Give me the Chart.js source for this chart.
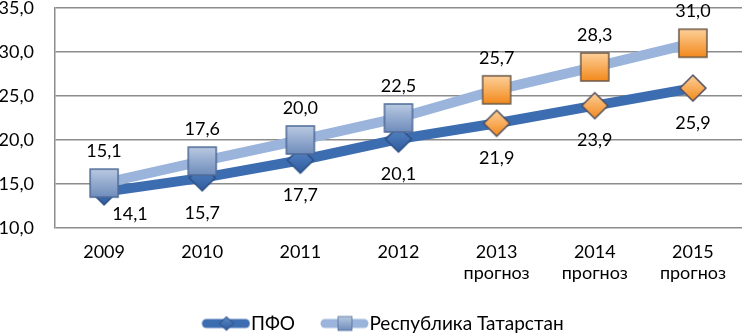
<!DOCTYPE html>
<html>
<head>
<meta charset="utf-8">
<script src="https://cdn.jsdelivr.net/npm/chart.js@4/dist/chart.umd.min.js"></script>
<style>
  html, body { margin: 0; padding: 0; background: #fff; }
  #wrap { width: 742px; height: 334px; }
</style>
</head>
<body>
<div id="wrap"><canvas id="chart_pfo"></canvas></div>
<script>
const years = [["2009"], ["2010"], ["2011"], ["2012"], ["2013", "прогноз"], ["2014", "прогноз"], ["2015", "прогноз"]];
const pfoValues = [14.1, 15.7, 17.7, 20.1, 21.9, 23.9, 25.9];
const tatValues = [15.1, 17.6, 20.0, 22.5, 25.7, 28.3, 31.0];
const forecastFrom = 4; // index of first "прогноз" year

const FONT = "Lato, 'Liberation Sans', sans-serif";

// marker images, drawn once
function makeMarker(shape, size, c1, c2, edge) {
  let cv = document.createElement("canvas");
  cv.width = size + 4;
  cv.height = size + 4;
  let g = cv.getContext("2d");
  let m = (size + 4) / 2;
  let grad = g.createLinearGradient(0, 2, 0, size + 2);
  grad.addColorStop(0, c1);
  grad.addColorStop(1, c2);
  g.fillStyle = grad;
  g.strokeStyle = edge;
  g.lineWidth = 1.5;
  g.beginPath();
  if (shape == "square") {
    g.rect(2, 2, size, size);
  } else {
    g.moveTo(m, 2);
    g.lineTo(size + 2, m);
    g.lineTo(m, size + 2);
    g.lineTo(2, m);
    g.closePath();
  }
  g.fill();
  g.stroke();
  return cv;
}

const sqBlue = makeMarker("square", 28, "#b9c9e2", "#6e8cbb", "#4e6a96");
const sqOrange = makeMarker("square", 28, "#fdd09a", "#f3891c", "#6d5a48");
const dmBlue = makeMarker("diamond", 26, "#5a88c8", "#2f5c9c", "#2b4f86");
const dmOrange = makeMarker("diamond", 26, "#fdd09a", "#f3891c", "#4f4f5f");

// legend icon: transparent space on the left so the line sits right before the text
function legendIcon(color, marker) {
  let cv = document.createElement("canvas");
  cv.width = 81;
  cv.height = 18;
  let g = cv.getContext("2d");
  g.strokeStyle = color;
  g.lineWidth = 9;
  g.lineCap = "round";
  g.beginPath();
  g.moveTo(37, 9);
  g.lineTo(76, 9);
  g.stroke();
  g.drawImage(marker, 57 - 8, 1, 16, 16);
  return cv;
}

// value labels: Татарстан above, ПФО below (kept inside plot area)
const valueLabels = {
  id: "valueLabels",
  afterDatasetsDraw(chart) {
    let ctx = chart.ctx;
    let area = chart.chartArea;
    ctx.save();
    ctx.font = "18px " + FONT;
    ctx.fillStyle = "#000";
    ctx.textAlign = "center";
    ctx.textBaseline = "middle";
    chart.data.datasets.forEach((ds, i) => {
      chart.getDatasetMeta(i).data.forEach((pt, j) => {
        let txt = ds.data[j].toFixed(1).replace(".", ",");
        let x = pt.x;
        let y = ds.labelPos == "above" ? pt.y - 32 : pt.y + 35;
        if (y > area.bottom - 8) {
          y = area.bottom - 14;
          x = x + 26;
        }
        ctx.fillText(txt, x, y);
      });
    });
    ctx.restore();
  },
};

var ctx = document.getElementById("chart_pfo").getContext("2d");

var myChart = new Chart(ctx, {
  type: "line",
  data: {
    labels: years,
    datasets: [
      {
        label: "ПФО",
        data: pfoValues,
        borderColor: "#3d6db1",
        borderWidth: 10,
        fill: false,
        tension: 0,
        order: 2,
        labelPos: "below",
        pointStyle: (c) => (c.dataIndex >= forecastFrom ? dmOrange : dmBlue),
        legendIcon: legendIcon("#3d6db1", dmBlue),
      },
      {
        label: "Республика Татарстан",
        data: tatValues,
        borderColor: "#9bb4db",
        borderWidth: 10,
        fill: false,
        tension: 0,
        order: 1,
        labelPos: "above",
        pointStyle: (c) => (c.dataIndex >= forecastFrom ? sqOrange : sqBlue),
        legendIcon: legendIcon("#9bb4db", sqBlue),
      },
    ],
  },
  plugins: [valueLabels],
  options: {
    animation: false,
    responsive: true,
    maintainAspectRatio: false,
    layout: {
      autoPadding: false,
      padding: { top: 0, right: 0, left: 0, bottom: -9 },
    },
    plugins: {
      tooltip: { enabled: false },
      legend: {
        display: true,
        position: "bottom",
        labels: {
          usePointStyle: true,
          pointStyleWidth: 63,
          padding: 2,
          color: "#000",
          font: { size: 19, family: FONT },
          sort: (a, b) => a.datasetIndex - b.datasetIndex,
          generateLabels: function (chart) {
            return chart.data.datasets.map((ds, i) => ({
              text: ds.label,
              pointStyle: ds.legendIcon,
              datasetIndex: i,
              fontColor: "#000",
              lineWidth: 0,
              hidden: false,
            }));
          },
        },
      },
    },
    scales: {
      x: {
        offset: true,
        afterFit: function (scale) {
          scale.height = 84;
        },
        grid: { display: false },
        border: { display: false },
        ticks: {
          color: "#000",
          padding: 5,
          maxRotation: 0,
          font: { size: 18, family: FONT, lineHeight: 1.2 },
        },
      },
      y: {
        min: 10,
        max: 35,
        afterFit: function (scale) {
          scale.width = 55;
          scale.paddingTop = 8;
          scale.paddingBottom = 8;
        },
        grid: {
          color: "#8c8c8c",
          lineWidth: 1.5,
          drawTicks: false,
        },
        border: { display: true, color: "#8c8c8c", width: 1.5 },
        ticks: {
          stepSize: 5,
          padding: 21,
          color: "#000",
          font: { size: 18, family: FONT },
          callback: (v) => v.toFixed(1).replace(".", ","),
        },
      },
    },
  },
});
</script>
</body>
</html>
